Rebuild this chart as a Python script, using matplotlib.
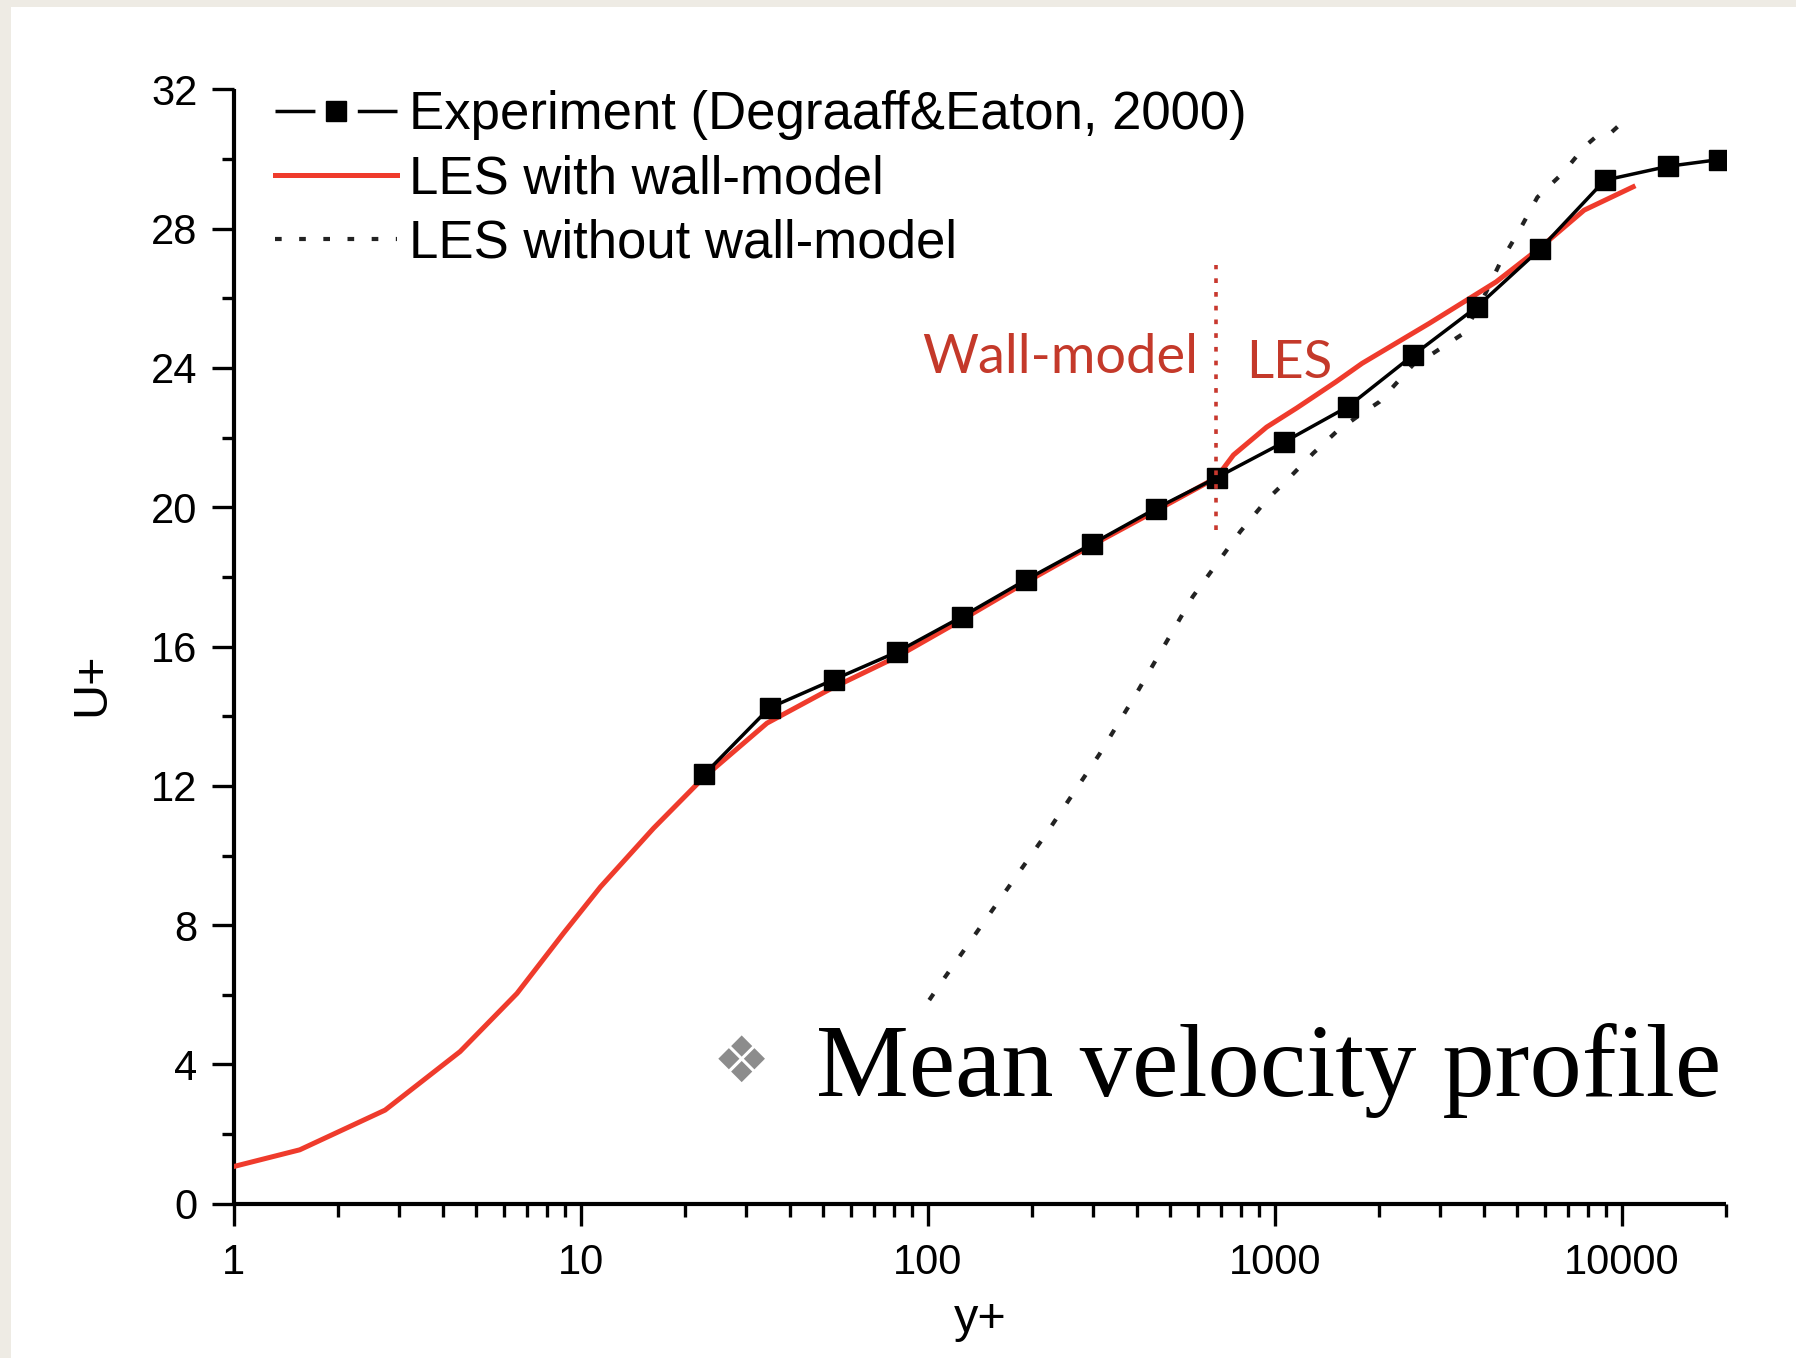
import matplotlib
matplotlib.use("Agg")
import matplotlib.pyplot as plt
from matplotlib.lines import Line2D
from matplotlib.patches import Rectangle
from matplotlib.ticker import LogLocator, MultipleLocator, FixedLocator, FixedFormatter, NullFormatter

# ---------------- data ----------------
exp_yplus = [22.7, 35.0, 53.6, 81.4, 125.6, 192.2, 296.5, 453.6, 680, 1063,
             1626, 2506, 3830, 5810, 8930, 13620, 19000]
exp_uplus = [12.33, 14.24, 15.05, 15.84, 16.86, 17.92, 18.94, 19.96, 20.85, 21.87,
             22.89, 24.37, 25.76, 27.41, 29.39, 29.79, 29.98]

les_wm_yplus = [1.0, 1.55, 2.73, 4.49, 6.55, 8.92, 11.4, 16.2, 22.6, 34.4, 52.8,
                81.6, 125, 192, 296, 454, 679, 760, 947, 1157, 1500, 1784, 2788,
                4342, 5810, 7787, 10780]
les_wm_uplus = [1.07, 1.55, 2.69, 4.37, 6.04, 7.77, 9.1, 10.78, 12.24, 13.8, 14.8,
                15.71, 16.76, 17.85, 18.9, 19.9, 20.85, 21.5, 22.3, 22.85, 23.6,
                24.13, 25.28, 26.47, 27.45, 28.53, 29.2]

les_nowm_yplus = [101, 109.8, 220, 312, 397, 580, 795, 946, 1085, 1290, 1506, 1750,
                  2004, 2507, 2788, 3498, 3985, 4450, 5100, 5710, 6770, 7800, 8520,
                  9300, 10600]
les_nowm_uplus = [5.85, 6.38, 10.64, 12.9, 14.61, 17.43, 19.3, 20.2, 20.78, 21.55,
                  22.17, 22.64, 23.03, 24.1, 24.35, 24.99, 26.0, 27.0, 28.0, 28.9,
                  29.6, 30.35, 30.68, 30.75, 31.27]

interface_yplus = 675
interface_span = [19.35, 26.95]

xtick_vals = [1, 10, 100, 1000, 10000]
xtick_labels = ["1", "10", "100", "1000", "10000"]
ytick_vals = [0, 4, 8, 12, 16, 20, 24, 28, 32]
ytick_labels = ["0", "4", "8", "12", "16", "20", "24", "28", "32"]

legend_labels = ["Experiment (Degraaff&Eaton, 2000)", "LES with wall-model",
                 "LES without wall-model"]

# ---------------- styling ----------------
W, H = 1796, 1358
fig = plt.figure(figsize=(W / 100, H / 100), dpi=100)
fig.patch.set_facecolor("#eeebe4")
fig.patches.append(Rectangle((11 / W, 0), 1, 1 - 7 / H, transform=fig.transFigure,
                             facecolor="white", edgecolor="none", zorder=-10))

ax_left, ax_right = 233.7, 1726.3
ax_bottom, ax_top = 1203.8, 89.3
ax = fig.add_axes([ax_left / W, (H - ax_bottom) / H,
                   (ax_right - ax_left) / W, (ax_bottom - ax_top) / H])
ax.set_facecolor("none")

SANS = "Liberation Sans"
RED = "#ef3b2c"

ax.plot(les_nowm_yplus, les_nowm_uplus, color="#222222", lw=3.0,
        linestyle=(0, (1.8, 4.6)), zorder=2)
ax.plot(les_wm_yplus, les_wm_uplus, color=RED, lw=3.6, zorder=3)
ax.plot(exp_yplus, exp_uplus, color="black", lw=2.5, marker="s", ms=14,
        mew=1.0, zorder=4)
ax.plot([interface_yplus, interface_yplus], interface_span, color="#c8382e",
        lw=2.6, linestyle=(0, (1.3, 2.5)), zorder=5)

ax.set_xscale("log")
ax.set_xlim(1, 20000)
ax.set_ylim(0, 32)

ax.xaxis.set_major_locator(FixedLocator(xtick_vals))
ax.xaxis.set_major_formatter(FixedFormatter(xtick_labels))
ax.xaxis.set_minor_locator(LogLocator(base=10, subs=range(2, 10), numticks=20))
ax.xaxis.set_minor_formatter(NullFormatter())
ax.yaxis.set_major_locator(FixedLocator(ytick_vals))
ax.yaxis.set_major_formatter(FixedFormatter(ytick_labels))
ax.yaxis.set_minor_locator(MultipleLocator(2))

for s in ["top", "right"]:
    ax.spines[s].set_visible(False)
for s in ["left", "bottom"]:
    ax.spines[s].set_linewidth(3.0)
    ax.spines[s].set_capstyle("butt")

ax.tick_params(axis="both", which="major", direction="out", length=16, width=2.4,
               labelsize=30, pad=10)
ax.tick_params(axis="both", which="minor", direction="out", length=9, width=2.4)
ax.tick_params(axis="x", which="major", pad=12)
for lab in ax.get_xticklabels() + ax.get_yticklabels():
    lab.set_fontfamily(SANS)

ax.set_xlabel("y+", fontsize=35, family=SANS, labelpad=10)
ax.set_ylabel("U+", fontsize=35, family=SANS)
ax.yaxis.label.set_va("center")
ax.yaxis.set_label_coords(-0.0949, 0.4664)

# legend
h_exp = Line2D([], [], color="black", lw=2.5, dashes=(11.5, 12.2), marker="s",
               ms=14, mew=1.0)
h_wm = Line2D([], [], color=RED, lw=3.6)
h_nowm = Line2D([], [], color="#222222", lw=3.0, linestyle=(0, (1.6, 4.2)))
leg = ax.legend([h_exp, h_wm, h_nowm], legend_labels, loc="upper left",
                bbox_to_anchor=(0.0277, 0.999), frameon=False, borderpad=0,
                borderaxespad=0, handlelength=2.31, handletextpad=0.23,
                labelspacing=0.27, prop={"family": SANS, "size": 38})

# region annotations
ax.text(600, 23.84, "Wall-model", color="#c4392a", fontsize=39, family="Lato",
        ha="right", va="baseline")
ax.text(826, 23.7, "LES", color="#c4392a", fontsize=38, family="Lato",
        ha="left", va="baseline")

# slide overlay caption
fig.text(741 / W, 1 - 1064 / H, "\u2756", fontsize=46, color="#8c8c8c",
         family="DejaVu Sans", ha="center", va="center")
fig.text(815.5 / W, 1 - 1096 / H, "Mean velocity profile", fontsize=75.2,
         family="Liberation Serif", ha="left", va="baseline", color="black")

fig.savefig("out.png", dpi=100, facecolor=fig.get_facecolor())
